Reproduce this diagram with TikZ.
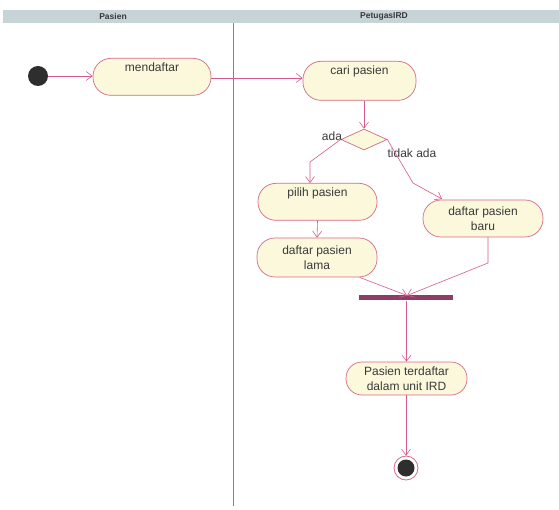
\documentclass[tikz,border=0pt]{standalone}
\usepackage{fontspec}
\setmainfont{Liberation Sans}
\usetikzlibrary{arrows.meta,shapes.geometric,calc}
\definecolor{hdr}{HTML}{C6D3D7}
\definecolor{actfill}{HTML}{FBF8DC}
\definecolor{actline}{HTML}{D66A88}
\definecolor{flow}{HTML}{D45C8C}
\definecolor{txt}{HTML}{3A3A3A}
\definecolor{barc}{HTML}{8E3E66}
\begin{document}
\begin{tikzpicture}[x=1pt,y=-1pt,
  act/.style={draw=actline, fill=actfill, rounded corners=18pt, inner xsep=2pt, inner ysep=0pt,
    font=\fontsize{12}{15}\selectfont, text=txt, align=center, line width=0.7pt},
  toptext/.style={text height=13pt, text depth=24pt},
  flowline/.style={draw=flow, line width=0.6pt},
  arr/.style={flowline, -{Straight Barb[length=6pt,width=9pt]}},
  lbl/.style={font=\fontsize{12}{14}\selectfont, text=txt, inner sep=1pt},
  hdrtext/.style={font=\fontsize{8.5}{10}\bfseries\selectfont, text=txt}]
\useasboundingbox (0,0) rectangle (559,510);
\fill[white] (0,0) rectangle (559,510);
% header
\fill[hdr] (3,10) rectangle (559,23.5);
\node[hdrtext] (hp) at (113,16.5) {Pasien};
\node[hdrtext] (hi) at (384,16.5) {PetugasIRD};
% lane divider
\draw[draw=flow, line width=0.5pt] (233,23.5) -- (233,506);
% nodes
\node[circle, fill=black!82, minimum size=20pt, inner sep=0pt] (start) at (38,76) {};
\node[act, toptext, minimum width=118pt] (mend) at (152,58) [anchor=north] {mendaftar};
\node[act, toptext, minimum width=113pt, text depth=26pt] (cari) at (359.5,61) [anchor=north] {cari pasien};
\node[diamond, draw=actline, fill=actfill, line width=0.7pt, minimum width=46pt, minimum height=21pt, inner sep=0pt] (dec) at (364,139.5) {};
\node[act, toptext, minimum width=119pt] (pilih) at (317.5,183) [anchor=north] {pilih pasien};
\node[act, minimum width=120pt, minimum height=39pt] (lama) at (317,257.5) {daftar pasien\\lama};
\node[act, minimum width=120pt, minimum height=37pt] (baru) at (483,218.5) {daftar pasien\\baru};
\node[fill=barc, minimum width=94pt, minimum height=5pt, inner sep=0pt] (bar) at (406,298) {};
\node[act, minimum width=121pt, minimum height=33pt, rounded corners=16pt] (term) at (406.5,378.5) {Pasien terdaftar\\dalam unit IRD};
\node[circle, draw=actline, line width=0.8pt, minimum size=24pt, inner sep=0pt] (final) at (406,468) {};
\node[circle, fill=black!82, minimum size=17pt, inner sep=0pt] (finalin) at (final.center) {};
% labels
\node[lbl] (lada) at (332,136) {ada};
\node[lbl] (ltidak) at (412,153) {tidak ada};
% coordinates
\coordinate (c1) at (310,162);
\coordinate (c2) at (413,183);
\coordinate (c3) at (442,199);
\coordinate (c4) at (488,263);
\coordinate (c5) at (407,295.5);
% flows
\draw[arr] (start.east) -- (mend.west |- start.east);
\draw[arr] (mend.east |- 0,78) -- (cari.west |- 0,78);
\draw[arr] (cari.south -| dec.north) -- (dec.north);
\draw[arr] (dec.west) -- (c1) -- (c1 |- pilih.north);
\draw[arr] (dec.east) -- (c2) -- (c3);
\draw[arr] (pilih.south) -- (lama.north);
\draw[arr] (lama.-25) -- (c5);
\draw[arr] (baru.south -| c4) -- (c4) -- (c5);
\draw[arr] (bar.south -| term.north) -- (term.north);
\draw[arr] (term.south -| final.north) -- (final.north);
\end{tikzpicture}
\end{document}
